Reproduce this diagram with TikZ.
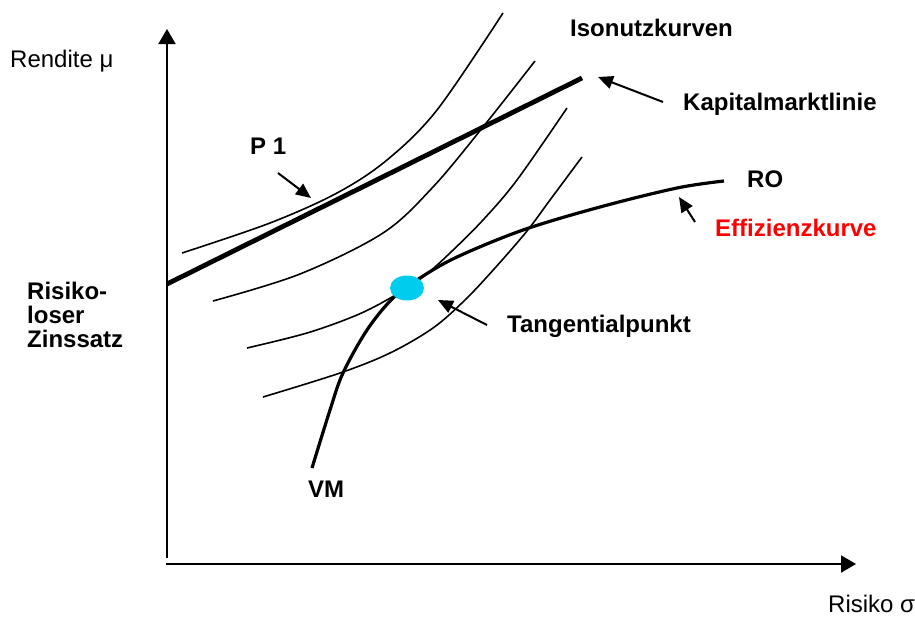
\documentclass[tikz,border=0pt]{standalone}
\usepackage{fontspec}
\setmainfont{Liberation Sans}
\usetikzlibrary{arrows.meta,shapes.geometric}
\definecolor{tpcyan}{RGB}{0,204,238}
\definecolor{effred}{RGB}{255,0,0}
\begin{document}
\begin{tikzpicture}[x=1pt,y=-1pt,
  lbl/.style={inner sep=0pt,anchor=base west,font=\fontsize{24}{24}\selectfont},
  blbl/.style={lbl,font=\fontsize{24}{24}\selectfont\bfseries},
  axis/.style={line width=2pt,-{Triangle[length=15pt,width=17pt]}},
  pointer/.style={line width=2pt,-{Triangle[length=15pt,width=13pt]}},
  iso/.style={line width=1.6pt},
  eff/.style={line width=3.2pt},
  kml/.style={line width=4.8pt}]
\useasboundingbox (0,0) rectangle (915,624);
% axes
\coordinate (ybot) at (167,558);
\coordinate (ytop) at (167,29);
\coordinate (xleft) at (166,564);
\coordinate (xright) at (856,564);
\draw[axis] (ybot) -- (ytop);
\draw[axis] (xleft) -- (xright);
% indifference curves
\draw[iso] plot[smooth,tension=0.55] coordinates {(182,253) (270,223) (337,193) (387,160) (437,110) (503,13)};
\draw[iso] plot[smooth,tension=0.55] coordinates {(213,301) (300,274) (383,233) (433,187) (483,127) (535,61)};
\draw[iso] plot[smooth,tension=0.55] coordinates {(247,348) (307,333) (357,315) (392,297) (423,277) (450,253) (483,220) (517,180) (567,108)};
\draw[iso] plot[smooth,tension=0.55] coordinates {(263,397) (340,373) (390,353) (433,328) (465,300) (495,268) (527,231) (550,200) (582,157)};
% capital market line
\coordinate (kmlA) at (167,284);
\coordinate (kmlB) at (582,78);
\draw[kml] (kmlA) -- (kmlB);
% efficiency curve
\draw[eff] plot[smooth,tension=0.55] coordinates {(312,468) (330,410) (343,373) (367,330) (393,298) (420,278) (457,257) (523,230) (600,207) (677,188) (724,181)};
% tangential point
\node[ellipse,fill=tpcyan,minimum width=34pt,minimum height=25pt,inner sep=0pt] (tp) at (407,288) {};
% labels
\node[lbl] (rendite) at (10,67) {Rendite μ};
\node[lbl] (risiko) at (828,612) {Risiko σ};
\node[blbl] (iso) at (570,36) {Isonutzkurven};
\node[blbl] (kapital) at (683,110) {Kapitalmarktlinie};
\node[blbl] (ro) at (747,187) {RO};
\node[blbl,text=effred] (effl) at (715,236) {Effizienzkurve};
\node[blbl] (tang) at (507,332) {Tangentialpunkt};
\node[blbl] (p1) at (250,154) {P 1};
\node[blbl] (vm) at (308,497) {VM};
\node[blbl,align=left,anchor=north west] (rf) at (27,282) {Risiko-\\loser\\Zinssatz};
% pointer arrows
\coordinate (kT) at (663,102); \coordinate (kH) at (598,77);
\coordinate (pT) at (278,173); \coordinate (pH) at (311,198);
\coordinate (tT) at (487,325); \coordinate (tH) at (438,300);
\coordinate (eT) at (695,222); \coordinate (eH) at (679,197);
\draw[pointer] (kT) -- (kH);
\draw[pointer] (pT) -- (pH);
\draw[pointer] (tT) -- (tH);
\draw[pointer] (eT) -- (eH);
\end{tikzpicture}
\end{document}
